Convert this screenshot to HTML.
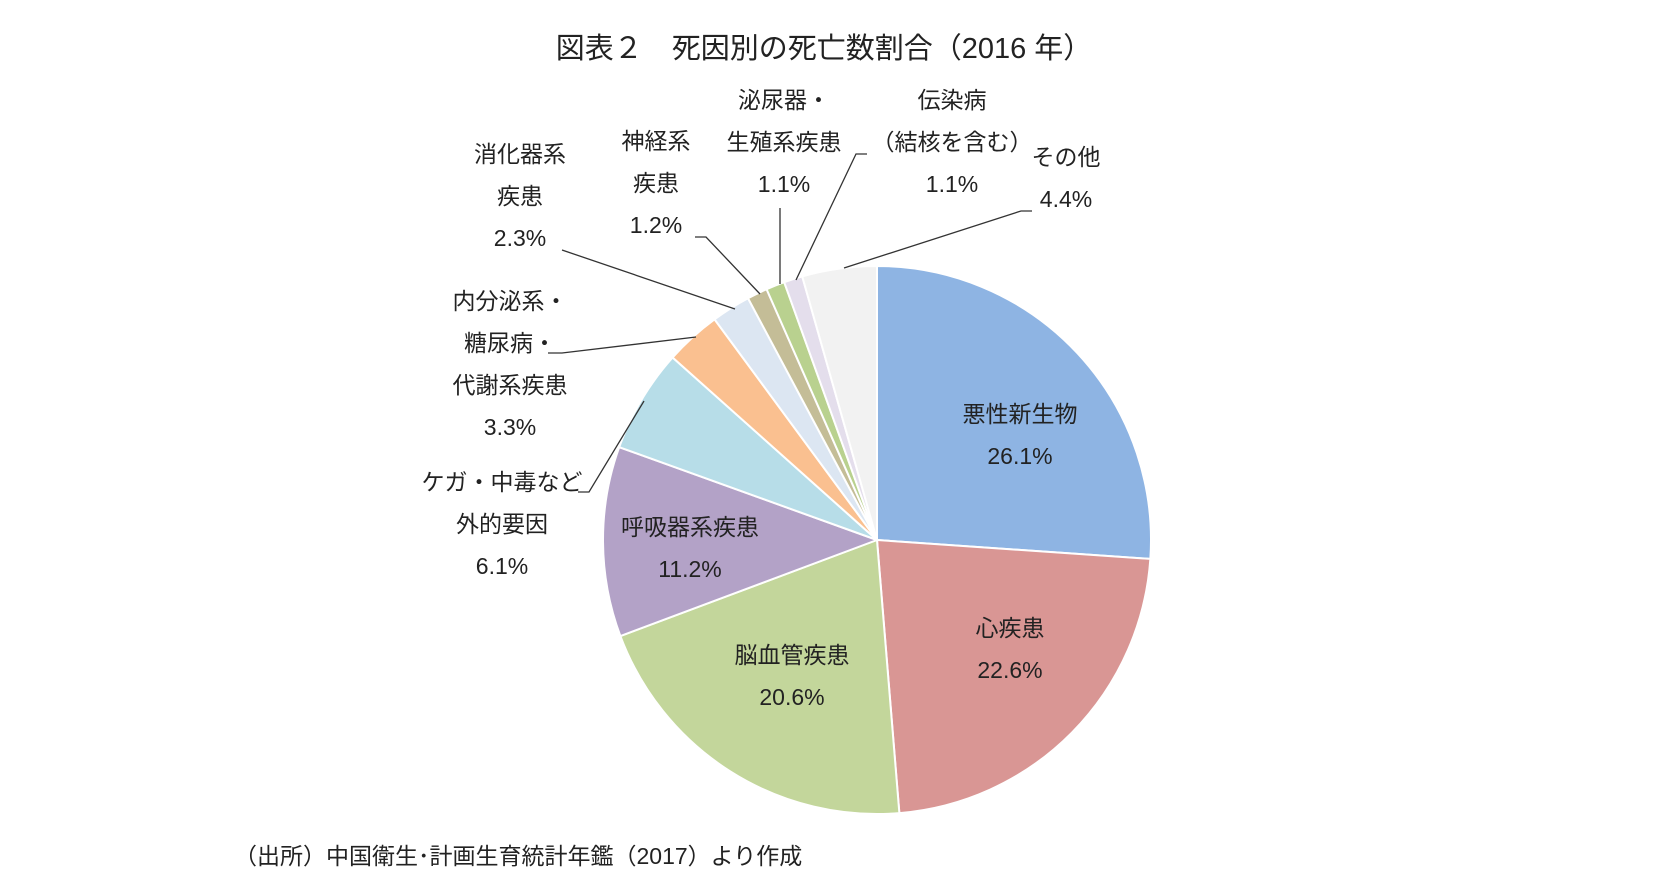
<!DOCTYPE html>
<html><head><meta charset="utf-8">
<style>
html,body{margin:0;padding:0;background:#fff;}
svg{display:block;font-family:"Liberation Sans","Noto Sans CJK JP",sans-serif;}
text{fill:#222;}
</style></head>
<body>
<svg id="chart" width="1657" height="888" viewBox="0 0 1657 888">
<text x="824" y="58" font-size="29" text-anchor="middle">図表２　死因別の死亡数割合（2016 年）</text>
<g id="slices"></g>
<g id="leaders" stroke="#333" stroke-width="1.3" fill="none"></g>
<g id="labels" font-size="23" text-anchor="middle"></g>
<text x="234" y="864" font-size="23">（出所）中国衛生･計画生育統計年鑑（2017）より作成</text>
</svg>
<script>
const categories = ["悪性新生物","心疾患","脳血管疾患","呼吸器系疾患","ケガ・中毒など外的要因","内分泌系・糖尿病・代謝系疾患","消化器系疾患","神経系疾患","泌尿器・生殖系疾患","伝染病（結核を含む）","その他"];
const values = [26.1,22.6,20.6,11.2,6.1,3.3,2.3,1.2,1.1,1.1,4.4];
const valueLabels = ["26.1%","22.6%","20.6%","11.2%","6.1%","3.3%","2.3%","1.2%","1.1%","1.1%","4.4%"];
const colors = ["#8EB4E3","#D99694","#C3D69B","#B3A2C7","#B7DDE8","#FAC090","#DCE6F2","#C4BD97","#B9D18F","#E4DEEC","#F2F2F2"];
const labelLines = [["悪性新生物"],["心疾患"],["脳血管疾患"],["呼吸器系疾患"],["ケガ・中毒など","外的要因"],["内分泌系・","糖尿病・","代謝系疾患"],["消化器系","疾患"],["神経系","疾患"],["泌尿器・","生殖系疾患"],["伝染病","（結核を含む）"],["その他"]];
const labelPos = [[1020,414],[1010,628],[792,655],[690,527],[502,482],[510,301],[520,154],[656,141],[784,100],[952,100],[1066,157]];
const leaderPts = [null,null,null,null,[[578,492],[589,492],[644,401]],[[548,353],[562,353],[696,337]],[[562,250],[735,309]],[[695,237],[706,237],[760,294]],[[780,208],[780,284]],[[867,154],[856,154],[796,280]],[[1032,211],[1021,211],[844,268]]];

const cx=877, cy=540, r=274, NS="http://www.w3.org/2000/svg";
const total = values.reduce((a,b)=>a+b,0);
function pt(frac,rad){const a=frac*2*Math.PI-Math.PI/2;return [cx+rad*Math.cos(a),cy+rad*Math.sin(a)];}
let acc=0;
const gS=document.getElementById('slices'), gL=document.getElementById('labels'), gD=document.getElementById('leaders');
values.forEach((v,i)=>{
  const f0=acc/total, f1=(acc+v)/total; acc+=v;
  const p0=pt(f0,r), p1=pt(f1,r), large=(f1-f0)>0.5?1:0;
  const p=document.createElementNS(NS,'path');
  p.setAttribute('d',`M${cx},${cy}L${p0[0]},${p0[1]}A${r},${r} 0 ${large} 1 ${p1[0]},${p1[1]}Z`);
  p.setAttribute('fill',colors[i]); p.setAttribute('stroke','#fff'); p.setAttribute('stroke-width','2');
  
  
  gS.appendChild(p);
  const lines=labelLines[i].concat([valueLabels[i]]);
  const [lx,ly]=labelPos[i];
  lines.forEach((t,j)=>{
    const tx=document.createElementNS(NS,'text');
    tx.setAttribute('x',lx); tx.setAttribute('y',ly+j*42+8);
    tx.textContent=t;
    
    
    gL.appendChild(tx);
  });
  if(leaderPts[i]){
    const pl=document.createElementNS(NS,'polyline');
    pl.setAttribute('points',leaderPts[i].map(q=>q.join(',')).join(' '));
    
    
    gD.appendChild(pl);
  }
});
</script>
</body></html>
